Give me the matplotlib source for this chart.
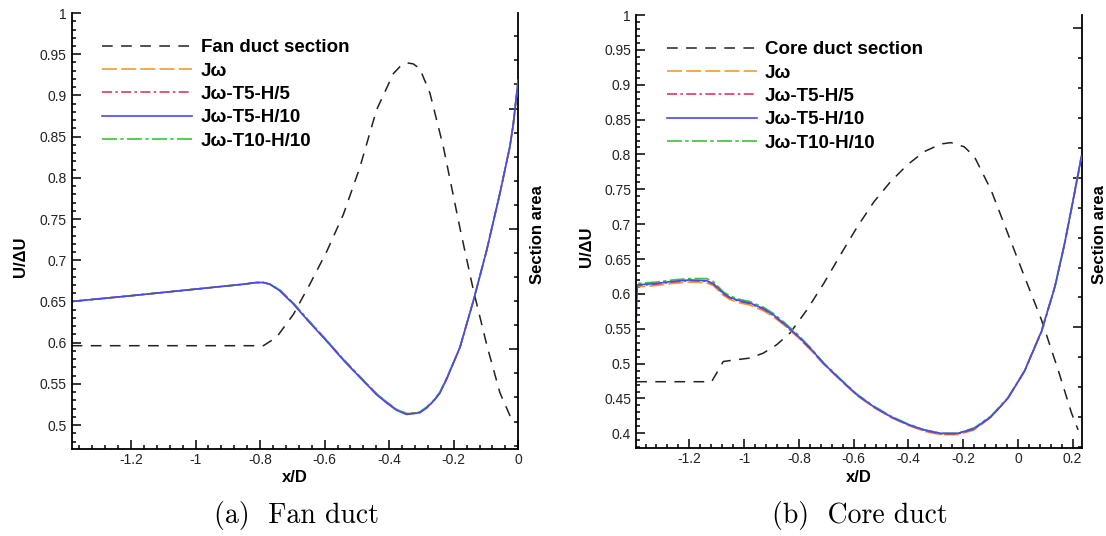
import numpy as np
import matplotlib
matplotlib.use("Agg")
import matplotlib.pyplot as plt
from matplotlib.ticker import MultipleLocator, AutoMinorLocator, FuncFormatter

plt.rcParams['font.family'] = ['Liberation Sans', 'DejaVu Sans']

# ---- (a) fan duct ----
fan_sec_x = [-1.384, -0.79, -0.749, -0.697, -0.646, -0.594, -0.542, -0.491, -0.439, -0.387,
             -0.366, -0.346, -0.325, -0.305, -0.274, -0.232, -0.181, -0.139, -0.098, -0.057,
             -0.026, -0.005]
fan_sec_area = [0.303, 0.303, 0.310, 0.329, 0.354, 0.381, 0.412, 0.451, 0.499, 0.529,
                0.535, 0.538, 0.537, 0.533, 0.513, 0.468, 0.401, 0.349, 0.304, 0.264,
                0.245, 0.239]

fan_x = [-1.384, -1.2, -1.0, -0.85, -0.811, -0.79, -0.77, -0.739, -0.718, -0.697, -0.65,
         -0.594, -0.54, -0.491, -0.439, -0.408, -0.377, -0.346, -0.325, -0.305, -0.284,
         -0.263, -0.243, -0.222, -0.181, -0.139, -0.098, -0.057, -0.026, -0.0155, 0.0]
fan_jw = [0.650, 0.657, 0.665, 0.671, 0.673, 0.673, 0.671, 0.663, 0.655, 0.647, 0.626,
          0.602, 0.578, 0.558, 0.537, 0.527, 0.518, 0.513, 0.514, 0.515, 0.521,
          0.529, 0.539, 0.556, 0.594, 0.651, 0.712, 0.781, 0.838, 0.865, 0.919]
fan_t5h5 = [0.650, 0.657, 0.665, 0.671, 0.673, 0.673, 0.671, 0.664, 0.656, 0.648, 0.627,
            0.603, 0.579, 0.559, 0.538, 0.528, 0.519, 0.514, 0.514, 0.516, 0.521,
            0.529, 0.539, 0.556, 0.594, 0.651, 0.712, 0.781, 0.838, 0.865, 0.919]
fan_t5h10 = [0.650, 0.657, 0.665, 0.671, 0.673, 0.673, 0.671, 0.663, 0.655, 0.647, 0.626,
             0.602, 0.578, 0.558, 0.537, 0.527, 0.518, 0.513, 0.514, 0.515, 0.521,
             0.529, 0.539, 0.556, 0.594, 0.651, 0.712, 0.781, 0.838, 0.865, 0.919]
fan_t10h10 = [0.650, 0.657, 0.665, 0.671, 0.673, 0.673, 0.671, 0.664, 0.656, 0.648, 0.627,
              0.603, 0.579, 0.559, 0.538, 0.528, 0.519, 0.514, 0.515, 0.516, 0.522,
              0.530, 0.540, 0.557, 0.594, 0.651, 0.712, 0.781, 0.838, 0.865, 0.919]

# ---- (b) core duct ----
core_sec_x = [-1.394, -1.119, -1.101, -1.076, -1.040, -0.979, -0.930, -0.881, -0.832, -0.771,
              -0.709, -0.648, -0.587, -0.526, -0.465, -0.404, -0.343, -0.281, -0.245, -0.196,
              -0.159, -0.098, -0.037, 0.024, 0.086, 0.147, 0.196, 0.220]
core_sec_area = [0.1637, 0.1637, 0.1692, 0.1772, 0.1781, 0.1795, 0.1828, 0.1884, 0.1963, 0.2116,
                 0.2294, 0.2485, 0.2671, 0.2839, 0.2974, 0.3086, 0.3174, 0.3226, 0.3235, 0.3207,
                 0.3142, 0.2918, 0.2629, 0.2340, 0.2051, 0.1716, 0.1427, 0.1315]

core_x = [-1.394, -1.390, -1.321, -1.260, -1.199, -1.138, -1.113, -1.076, -1.052, -1.015,
          -0.979, -0.930, -0.893, -0.856, -0.807, -0.758, -0.709, -0.648, -0.587, -0.526,
          -0.465, -0.404, -0.343, -0.281, -0.220, -0.159, -0.098, -0.037, 0.024, 0.086,
          0.135, 0.171, 0.202, 0.232]
core_jw = [0.600, 0.610, 0.612, 0.615, 0.617, 0.616, 0.612, 0.598, 0.592, 0.587,
           0.584, 0.576, 0.567, 0.556, 0.539, 0.520, 0.499, 0.476, 0.454, 0.437,
           0.423, 0.412, 0.403, 0.398, 0.398, 0.405, 0.423, 0.450, 0.490, 0.547,
           0.611, 0.674, 0.736, 0.797]
core_t5h5 = [0.605, 0.612, 0.614, 0.617, 0.619, 0.618, 0.614, 0.600, 0.594, 0.589,
             0.586, 0.578, 0.569, 0.557, 0.540, 0.521, 0.500, 0.477, 0.455, 0.438,
             0.424, 0.413, 0.404, 0.399, 0.399, 0.406, 0.424, 0.450, 0.489, 0.546,
             0.610, 0.672, 0.734, 0.795]
core_t5h10 = [0.567, 0.613, 0.615, 0.618, 0.620, 0.619, 0.615, 0.601, 0.595, 0.590,
              0.587, 0.579, 0.570, 0.558, 0.541, 0.522, 0.500, 0.477, 0.455, 0.438,
              0.424, 0.413, 0.405, 0.400, 0.400, 0.407, 0.424, 0.450, 0.489, 0.546,
              0.610, 0.673, 0.735, 0.797]
core_t10h10 = [0.590, 0.615, 0.617, 0.620, 0.622, 0.622, 0.618, 0.603, 0.597, 0.592,
               0.589, 0.581, 0.572, 0.560, 0.543, 0.523, 0.501, 0.478, 0.456, 0.439,
               0.425, 0.414, 0.405, 0.400, 0.400, 0.408, 0.425, 0.451, 0.489, 0.545,
               0.609, 0.672, 0.735, 0.798]

labels = ['J\u03c9', 'J\u03c9-T5-H/5', 'J\u03c9-T5-H/10', 'J\u03c9-T10-H/10']

fmt = FuncFormatter(lambda v, p: '%g' % round(v, 4))


def style_axes(ax, ax2, xlim, ylim, area_lim):
    ax.set_xlim(*xlim)
    ax.set_ylim(*ylim)
    ax.xaxis.set_major_locator(MultipleLocator(0.2))
    ax.xaxis.set_minor_locator(AutoMinorLocator(5))
    ax.yaxis.set_major_locator(MultipleLocator(0.05))
    ax.yaxis.set_minor_locator(AutoMinorLocator(5))
    ax.xaxis.set_major_formatter(fmt)
    ax.yaxis.set_major_formatter(fmt)
    ax.tick_params(which='both', direction='in', top=False, right=False,
                   labelsize=10, labelcolor='#222222', width=1.1)
    ax.tick_params(which='major', length=6.5)
    ax.tick_params(which='minor', length=3)
    ax.tick_params(axis='x', pad=3)
    ax.spines['top'].set_visible(False)
    ax.spines['right'].set_visible(False)
    for s in ('left', 'bottom'):
        ax.spines[s].set_linewidth(1.3)

    ax2.set_ylim(*area_lim)
    ax2.yaxis.set_major_locator(MultipleLocator(0.1))
    ax2.yaxis.set_minor_locator(AutoMinorLocator(5))
    ax2.tick_params(which='both', direction='in', labelright=False, width=1.1)
    ax2.tick_params(which='major', length=6.5)
    ax2.tick_params(which='minor', length=3)
    for s in ('top', 'left', 'bottom'):
        ax2.spines[s].set_visible(False)
    ax2.spines['right'].set_linewidth(1.3)


fig = plt.figure(figsize=(11.06, 5.36), dpi=100)

panels = [
    dict(rect=[0.0648, 0.1623, 0.4038, 0.8134], xlim=(-1.384, 0.0), ylim=(0.471, 1.0),
         area_lim=(0.2172, 0.5793), sec_x=fan_sec_x, sec=fan_sec_area, sec_label='Fan duct section',
         x=fan_x, series=[fan_jw, fan_t5h5, fan_t10h10, fan_t5h10],
         caption='(a)  Fan duct', ylab_x=21, ylab_y=257, sa_x=537, sa_y=235, cx=296),
    dict(rect=[0.5750, 0.1642, 0.4030, 0.8078], xlim=(-1.395, 0.233), ylim=(0.379, 1.0),
         area_lim=(0.1194, 0.4088), sec_x=core_sec_x, sec=core_sec_area, sec_label='Core duct section',
         x=core_x, series=[core_jw, core_t5h5, core_t10h10, core_t5h10],
         caption='(b)  Core duct', ylab_x=586, ylab_y=247, sa_x=1099, sa_y=235, cx=860),
]

colors = ['#f39a2e', '#dc3a62', '#3bc43b', '#4848f5']
styles = [(0, (9, 2.5)), (0, (6, 2, 1.5, 2)), (0, (9, 2, 2, 2)), '-']
names = [labels[0], labels[1], labels[3], labels[2]]

for p in panels:
    ax = fig.add_axes(p['rect'])
    ax2 = ax.twinx()
    ax.set_zorder(ax2.get_zorder() + 1)
    ax.patch.set_visible(False)
    style_axes(ax, ax2, p['xlim'], p['ylim'], p['area_lim'])

    ax2.plot(p['sec_x'], p['sec'], color='#222222', lw=1.1, ls=(0, (7, 5.5)))
    handles = {}
    for vals, c, ls, nm in zip(p['series'], colors, styles, names):
        h, = ax.plot(p['x'], vals, color=c, lw=1.2, ls=ls)
        handles[nm] = h
    sec_handle, = ax.plot([], [], color='#222222', lw=1.1, ls=(0, (7, 5.5)))

    order = [sec_handle] + [handles[l] for l in labels]
    leg = ax.legend(order, [p['sec_label']] + labels, loc='upper left',
                    bbox_to_anchor=(0.052, 0.957), frameon=False,
                    prop=dict(family=['Liberation Sans', 'DejaVu Sans'], weight='bold', size=13.5),
                    handlelength=4.8, handletextpad=0.45, labelspacing=0.33, borderaxespad=0)

    r = p['rect']
    fig.text(r[0] + r[2] / 2, 1 - 477 / 536, 'x/D', ha='center', va='center',
             fontsize=12, fontweight='bold')
    fig.text(p['ylab_x'] / 1106, 1 - p['ylab_y'] / 536, 'U/\u0394U', rotation=90,
             ha='center', va='center', fontsize=12, fontweight='bold')
    fig.text(p['sa_x'] / 1106, 1 - p['sa_y'] / 536, 'Section area', rotation=90,
             ha='center', va='center', fontsize=12, fontweight='bold')
    fig.text(p['cx'] / 1106, 1 - 516 / 536, p['caption'], ha='center', va='center',
             fontsize=20, family=['cmr10', 'DejaVu Serif'])

fig.savefig('out.png', dpi=100)
